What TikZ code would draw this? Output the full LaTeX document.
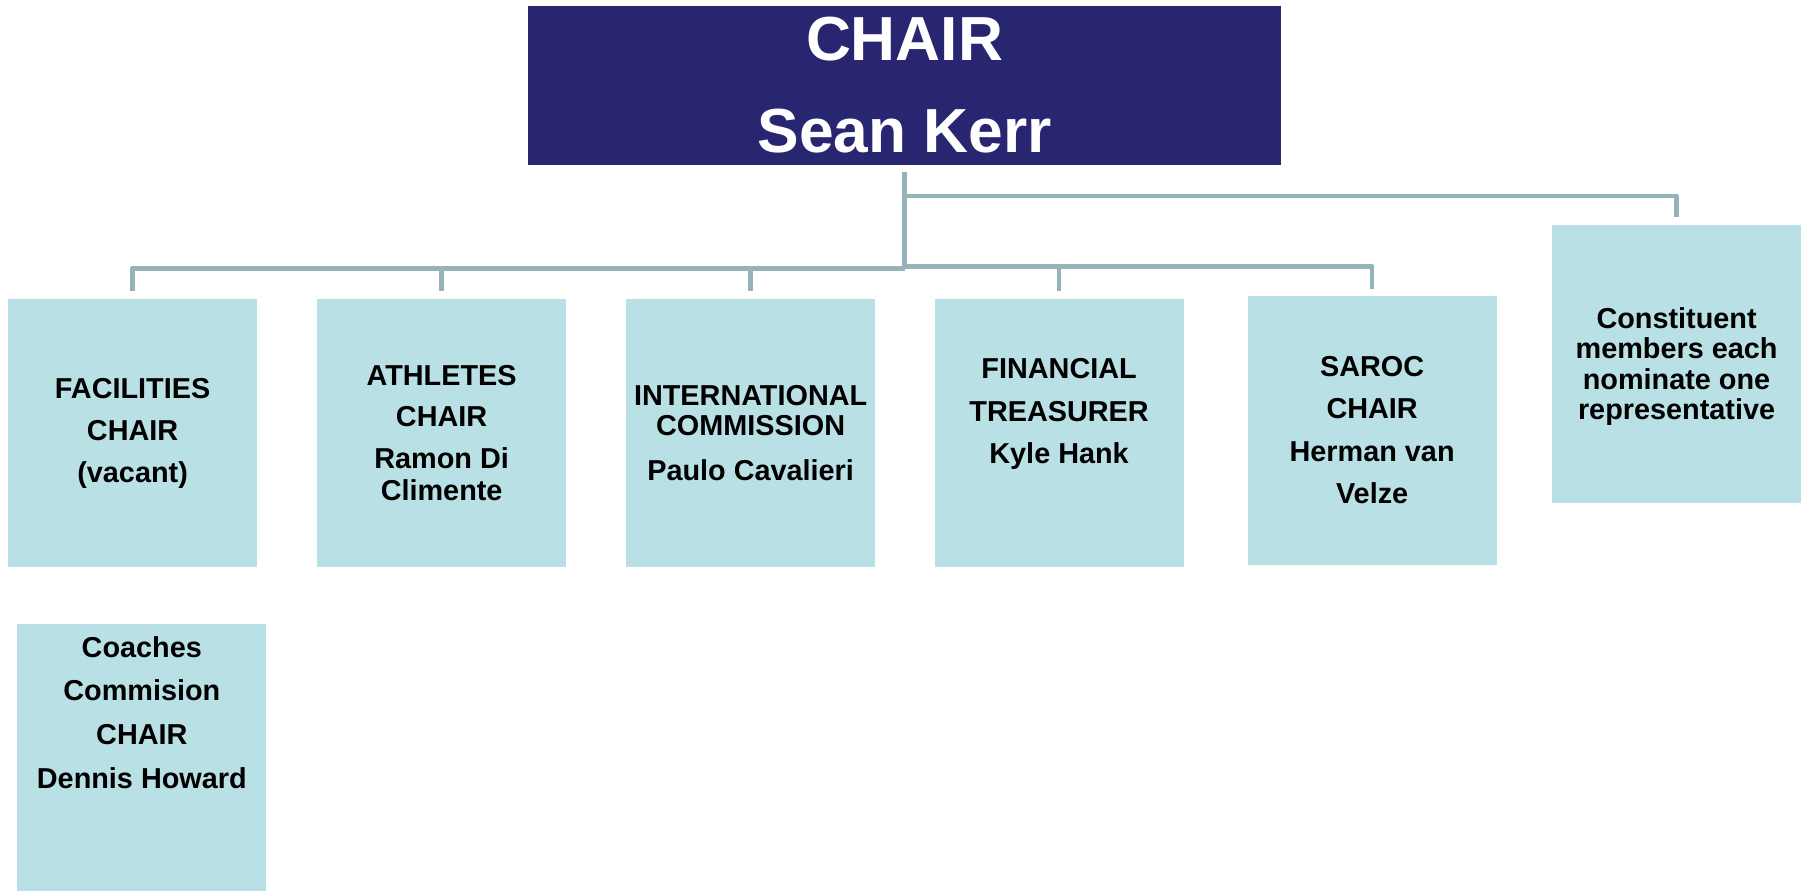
\documentclass[tikz,border=0pt]{standalone}
\usepackage{fontspec}
\setmainfont{Liberation Sans}
\definecolor{navy}{HTML}{282670}
\definecolor{boxblue}{HTML}{B9E0E4}
\definecolor{connc}{HTML}{95B3B8}
\begin{document}
\begin{tikzpicture}[x=1pt,y=1pt,
  chairbox/.style={fill=navy, draw=none, minimum width=653pt, minimum height=138pt, inner sep=0pt,
    text=white, align=center, font=\fontsize{54}{80}\selectfont\bfseries},
  unitbox/.style={fill=boxblue, draw=none, minimum width=216pt, inner sep=0pt},
  unittext/.style={align=center, inner sep=0pt, text=black, font=\fontsize{25}{27.5}\selectfont\bfseries},
  conn/.style={draw=connc, line width=4pt, line join=round}]
\useasboundingbox (0,0) rectangle (1568,-773);

\node[chairbox] (chair) at (784.5,-74) {CHAIR\\Sean Kerr};

\node[unitbox, minimum height=233pt] (b1) at (115,-375.5) {};
\node[unitbox, minimum height=233pt] (b2) at (383,-375.5) {};
\node[unitbox, minimum height=233pt] (b3) at (651,-375.5) {};
\node[unitbox, minimum height=233pt] (b4) at (918.5,-375.5) {};
\node[unitbox, minimum height=233pt] (b5) at (1190,-373.5) {};
\node[unitbox, minimum height=241pt] (b6) at (1454,-315.5) {};
\node[unitbox, minimum height=232pt] (b7) at (123,-657) {};

\node[unittext] (t1) at (115,-376) {FACILITIES\\[9pt]CHAIR\\[9pt](vacant)};
\node[unittext] (t2) at (383,-375.5) {ATHLETES\\[8pt]CHAIR\\[9pt]Ramon Di\\Climente};
\node[unittext] (t3) at (651,-375.5) {INTERNATIONAL\\[-1pt]COMMISSION\\[11pt]Paulo Cavalieri};
\node[unittext] (t4) at (918.5,-359) {FINANCIAL\\[9pt]TREASURER\\[9pt]Kyle Hank};
\node[unittext] (t5) at (1190,-373) {SAROC\\[9pt]CHAIR\\[9pt]Herman van\\[9pt]Velze};
\node[unittext] (t6) at (1454,-318) {Constituent\\[-1pt]members each\\[-1pt]nominate one\\[-1pt]representative};
\node[unittext] (t7) at (123,-618) {Coaches\\[10.5pt]Commision\\[10.5pt]CHAIR\\[10.5pt]Dennis Howard};

\coordinate (j1) at (784.5,-170);
\coordinate (j2) at (784.5,-233);
\coordinate (j3) at (784.5,-231);

\draw[conn] ([yshift=-6pt]chair.south) -- (j2);
\draw[conn] (j1) -| ([yshift=7pt]b6.north);
\draw[conn] ([yshift=6pt]b1.north) |- (j2);
\draw[conn] ([yshift=6pt]b2.north) -- (b2.north |- j2);
\draw[conn] ([yshift=6pt]b3.north) -- (b3.north |- j2);
\draw[conn] (j3) -| ([yshift=6pt]b5.north);
\draw[conn] ([yshift=6pt]b4.north) -- (b4.north |- j3);
\end{tikzpicture}
\end{document}
